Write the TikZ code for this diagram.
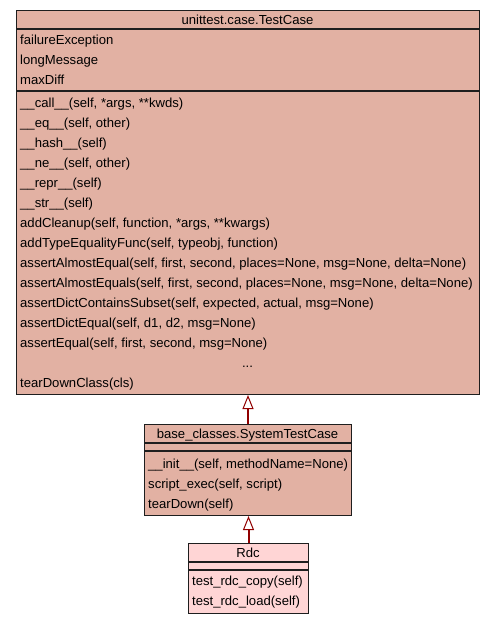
\documentclass[tikz,border=0pt]{standalone}
\usepackage{fontspec}
\setmainfont{Liberation Sans}
\usetikzlibrary{arrows.meta}
\definecolor{boxfill}{RGB}{226,177,163}
\definecolor{rdcfill}{RGB}{255,213,213}
\definecolor{edgered}{RGB}{145,0,0}
\definecolor{bordergray}{RGB}{30,30,30}
\tikzset{
  x=1pt, y=-1pt,
  classbox/.style={draw=bordergray, line width=1pt, fill=boxfill, inner sep=0pt, anchor=north west},
  leafbox/.style={classbox, fill=rdcfill},
  sepline/.style={draw=bordergray, line width=1.2pt},
  member/.style={anchor=base west, inner sep=0pt, font=\fontsize{13.1}{15}\selectfont, text=black},
  ctitle/.style={anchor=base, inner sep=0pt, font=\fontsize{13.1}{15}\selectfont, text=black},
  inherit/.style={draw=edgered, line width=2pt, -{Triangle[open, length=14pt, width=11pt, line width=1pt]}},
}
\begin{document}
\begin{tikzpicture}
\useasboundingbox (0,0) rectangle (493,624);
\fill[white] (0,0) rectangle (493,624);
% unittest.case.TestCase
\node[classbox, minimum width=463pt, minimum height=384pt] (tc) at (16,10) {};
\draw[sepline] (16,29) -- (479,29);
\draw[sepline] (16,91) -- (479,91);
\node[ctitle] (tct) at (247.5,24) {unittest.case.TestCase};
\node[member] (a1) at (20,44) {failureException};
\node[member] (a2) at (20,64) {longMessage};
\node[member] (a3) at (20,84) {maxDiff};
\node[member] (m1) at (20,107) {\_\_call\_\_(self, *args, **kwds)};
\node[member] (m2) at (20,127) {\_\_eq\_\_(self, other)};
\node[member] (m3) at (20,147) {\_\_hash\_\_(self)};
\node[member] (m4) at (20,167) {\_\_ne\_\_(self, other)};
\node[member] (m5) at (20,187) {\_\_repr\_\_(self)};
\node[member] (m6) at (20,207) {\_\_str\_\_(self)};
\node[member] (m7) at (20,227) {addCleanup(self, function, *args, **kwargs)};
\node[member] (m8) at (20,247) {addTypeEqualityFunc(self, typeobj, function)};
\node[member] (m9) at (20,267) {assertAlmostEqual(self, first, second, places=None, msg=None, delta=None)};
\node[member] (m10) at (20,287) {assertAlmostEquals(self, first, second, places=None, msg=None, delta=None)};
\node[member] (m11) at (20,307) {assertDictContainsSubset(self, expected, actual, msg=None)};
\node[member] (m12) at (20,327) {assertDictEqual(self, d1, d2, msg=None)};
\node[member] (m13) at (20,347) {assertEqual(self, first, second, msg=None)};
\node[ctitle] (dots) at (247.5,367) {...};
\node[member] (m14) at (20,387) {tearDownClass(cls)};
% base_classes.SystemTestCase
\node[classbox, minimum width=207pt, minimum height=91pt] (stc) at (144,424) {};
\draw[sepline] (144,443) -- (351,443);
\draw[sepline] (144,451) -- (351,451);
\node[ctitle] (stct) at (247.5,438) {base\_classes.SystemTestCase};
\node[member] (s1) at (148,468) {\_\_init\_\_(self, methodName=None)};
\node[member] (s2) at (148,488) {script\_exec(self, script)};
\node[member] (s3) at (148,508) {tearDown(self)};
% Rdc
\node[leafbox, minimum width=120pt, minimum height=70pt] (rdc) at (188,543) {};
\draw[sepline] (188,562) -- (308,562);
\draw[sepline] (188,570) -- (308,570);
\node[ctitle] (rdct) at (248,557) {Rdc};
\node[member] (r1) at (192,585) {test\_rdc\_copy(self)};
\node[member] (r2) at (192,605) {test\_rdc\_load(self)};
% inheritance
\draw[inherit] (stc.north -| 248,0) -- (tc.south -| 248,0);
\draw[inherit] (rdc.north) -- (stc.south -| rdc.north);
\end{tikzpicture}
\end{document}
